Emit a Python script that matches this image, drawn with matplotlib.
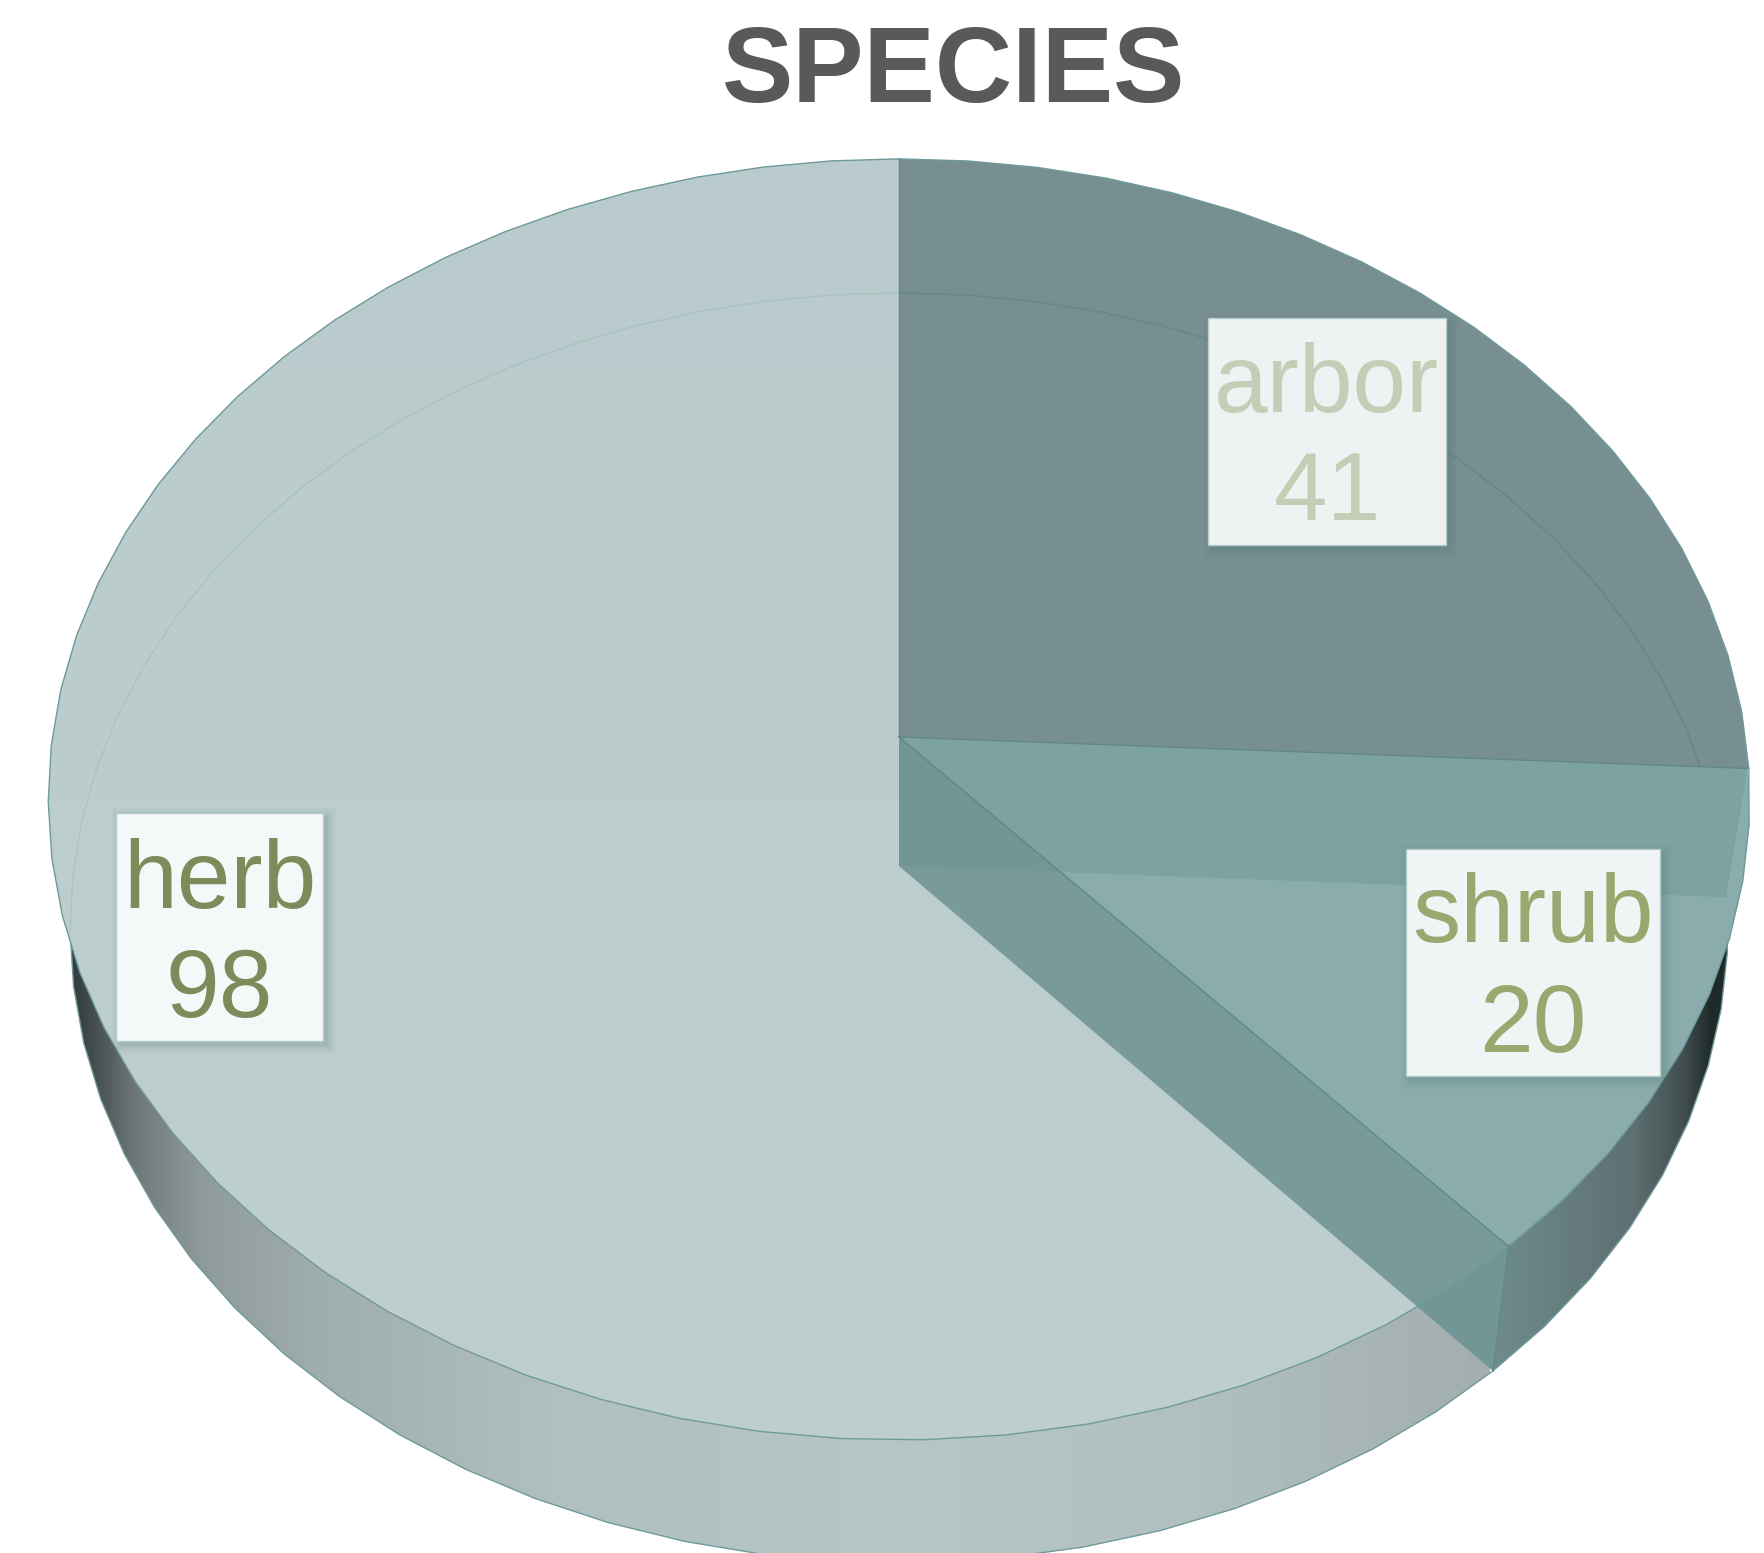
import numpy as np
import matplotlib
matplotlib.use("Agg")
import matplotlib.pyplot as plt
from matplotlib.colors import LinearSegmentedColormap
from matplotlib.patches import Polygon, Rectangle

plt.rcParams['font.family'] = ['Liberation Sans', 'DejaVu Sans']

categories = ["arbor", "shrub", "herb"]
values = [41, 20, 98]
label_colors = ["#c4cdb5", "#9aa870", "#7f8a5a"]
box_colors = ["#eef2f3", "#f0f4f5", "#f5f8f8"]

# label boxes in pixels: left, top, right, bottom
boxes = [(1208, 318, 1446, 545), (1406, 849, 1660, 1076), (116, 813, 323, 1041)]
baselines = [(412, 520), (942, 1052), (908, 1017)]

# perspective of the disc, pixels
CX = 899.0
TOP_CY, TOP_A, TOP_B = 737.0, 846.7, 634.5
BOT_CY, BOT_A, BOT_B = 866.0, 825.0, 629.0
K = 0.0975
RIM = "#6f9a9a"
SEAM = "#62878a"

fig = plt.figure(figsize=(17.64, 15.53), dpi=100)
ax = fig.add_axes([0, 0, 1, 1])
ax.set_xlim(0, 1764)
ax.set_ylim(1553, 0)
ax.axis("off")
ax.set_autoscale_on(False)


def project(theta, cy, a, b):
    # theta in degrees, clockwise from 12 o'clock
    t = np.radians(theta)
    u, v = np.sin(t), -np.cos(t)
    d = 1 - K * v
    return np.column_stack((CX + a * u / d, cy + b * v / d))


def top(theta):
    return project(theta, TOP_CY, TOP_A, TOP_B)


def bottom(theta):
    return project(theta, BOT_CY, BOT_A, BOT_B)


def arc(start, end):
    return np.linspace(start, end, max(int(abs(end - start) / 5), 2) + 1)


def gradient_fill(points, stops, colors, vertical=False, zorder=1):
    stops = np.array(stops, dtype=float)
    pos = (stops - stops[0]) / (stops[-1] - stops[0])
    cmap = LinearSegmentedColormap.from_list("g", list(zip(pos, colors)))
    grad = np.linspace(0, 1, 512)
    patch = Polygon(points, closed=True, fc="none", ec="none")
    ax.add_patch(patch)
    if vertical:
        img = grad.reshape(-1, 1)
        extent = [0, 1764, stops[-1], stops[0]]
    else:
        img = grad.reshape(1, -1)
        extent = [stops[0], stops[-1], 1553, 0]
    im = ax.imshow(img, cmap=cmap, extent=extent, aspect="auto", zorder=zorder,
                   origin="upper", interpolation="bilinear")
    im.set_clip_path(patch)


angles = np.cumsum([0] + values) / np.sum(values) * 360.0
a_arbor = (angles[0], angles[1])
a_shrub = (angles[1], angles[2])
a_herb = (angles[2], angles[3])
apex_top = np.array([CX, TOP_CY])
apex_bot = np.array([CX, BOT_CY])

# outer walls
t = arc(*a_herb)
herb_wall = np.vstack((top(t), bottom(t)[::-1]))
gradient_fill(herb_wall, [60, 83, 133, 200, 317, 550, 900, 1200, 1490],
              ["#29393a", "#3c4646", "#6f7878", "#8f9b9b", "#a0adad", "#b0bfbf",
               "#b6c6c6", "#b1bfbf", "#a3aeae"], zorder=1)
ax.plot(*bottom(t).T, color=RIM, lw=1, zorder=1.5)

t = arc(*a_shrub)
shrub_wall = np.vstack((top(t), bottom(t)[::-1]))
gradient_fill(shrub_wall, [1490, 1633, 1683, 1712, 1760],
              ["#6f8c8c", "#5e7072", "#434f50", "#1f2a2a", "#1f2a2a"], zorder=1)
ax.plot(*bottom(t).T, color=RIM, lw=1, zorder=1.5)

# top faces
t = arc(*a_herb)
gradient_fill(np.vstack((apex_top, top(t))), [150, 1450], ["#b9cbcc", "#bfcfcf"],
              vertical=True, zorder=2)

t = arc(*a_arbor)
arbor_top = Polygon(np.vstack((apex_top, top(t))), fc="#778f90", ec="none", zorder=2)
ax.add_patch(arbor_top)

t = arc(*a_shrub)
ax.add_patch(Polygon(np.vstack((apex_top, top(t))), fc="#8aacac", ec="none", zorder=2))

# cut faces seen through the shrub slice
a_top = top(np.array([a_arbor[1]]))[0]
a_bot = bottom(np.array([a_arbor[1]]))[0]
arbor_cut = [apex_top, a_top, a_bot, apex_bot]
ax.add_patch(Polygon(arbor_cut, fc="#7ca2a1", ec="none", zorder=3))

s_top = top(np.array([a_shrub[1]]))[0]
s_bot = bottom(np.array([a_shrub[1]]))[0]
herb_cut = Polygon([apex_top, s_top, s_bot, apex_bot], fc="#789a9a", ec="none", zorder=4)
ax.add_patch(herb_cut)

# darker where the two cut faces and the wall overlap
shade = Polygon(arbor_cut, fc="#5f878c", ec="none", alpha=0.22, zorder=4.2)
ax.add_patch(shade)
shade.set_clip_path(herb_cut)
shade = Polygon(herb_wall, fc="#5f878c", ec="none", alpha=0.22, zorder=4.2)
ax.add_patch(shade)
shade.set_clip_path(herb_cut)

# rims and seams
for a in (a_arbor, a_shrub, a_herb):
    ax.plot(*top(arc(*a)).T, color=RIM, lw=1, zorder=5)
ax.plot(*np.array([apex_top, a_top]).T, color=SEAM, lw=1, zorder=5)
ax.plot(*np.array([apex_top, s_top]).T, color=SEAM, lw=1, zorder=5)
ax.plot([CX, CX], [TOP_CY, top(np.array([0.0]))[0, 1]], color="#688688", lw=1, zorder=5)
ax.plot(*np.array([s_top, s_bot]).T, color=SEAM, lw=1, zorder=5)
ax.plot(*np.array([a_top, a_bot]).T, color="#8fb0b0", lw=1, zorder=5)

# bottom circle showing faintly through the top
line, = ax.plot(*bottom(arc(0, a_arbor[1])).T, color="#5f7f80", lw=1, alpha=0.6, zorder=5)
line.set_clip_path(arbor_top)
ax.plot(*bottom(arc(264, 360)).T, color="#8fa9a9", lw=1, alpha=0.3, zorder=5)

# labels
for name, val, col, box, fc, base in zip(categories, values, label_colors, boxes, box_colors, baselines):
    x0, y0, x1, y1 = box
    for grow, alpha in ((9, 0.04), (6, 0.06), (3, 0.07), (1, 0.09)):
        ax.add_patch(Rectangle((x0 + 4 - grow, y0 + 4 - grow), x1 - x0 + 2 * grow, y1 - y0 + 2 * grow,
                               fc="#4a7070", ec="none", alpha=alpha, zorder=6))
    ax.add_patch(Rectangle((x0, y0), x1 - x0, y1 - y0, fc=fc, ec="#b5cccc", lw=1, zorder=7))
    xc = (x0 + x1) / 2
    ax.text(xc, base[0], name, color=col, fontsize=69.5, ha="center", va="baseline", zorder=8)
    ax.text(xc, base[1], str(val), color=col, fontsize=69.5, ha="center", va="baseline", zorder=8)

ax.text(954, 102, "SPECIES", color="#595959", fontsize=77, fontweight="bold",
        ha="center", va="baseline", zorder=8)

fig.savefig("out.png", dpi=100, facecolor="white")
